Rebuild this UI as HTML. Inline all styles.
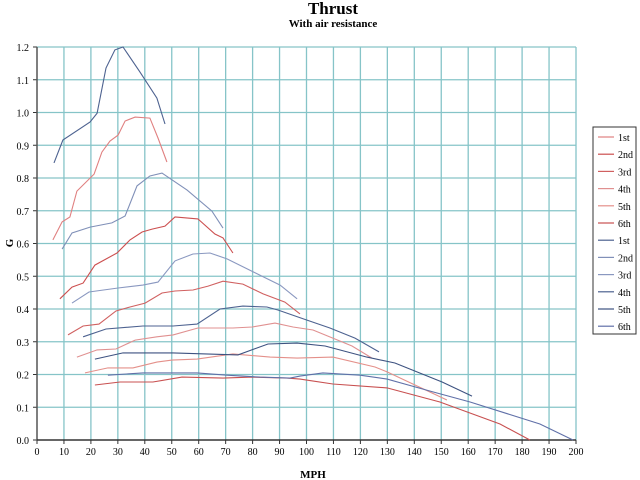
<!DOCTYPE html>
<html><head><meta charset="utf-8"><style>
body{margin:0;background:#fff;}
svg{display:block;font-family:"Liberation Serif",serif;}
</style></head><body>
<svg id="chart" width="640" height="480" viewBox="0 0 640 480" xmlns="http://www.w3.org/2000/svg">
<text x="333" y="14" text-anchor="middle" font-size="17" font-weight="bold">Thrust</text>
<text x="333" y="27" text-anchor="middle" font-size="11" font-weight="bold">With air resistance</text>
<text x="0" y="0" transform="translate(13,243) rotate(-90)" text-anchor="middle" font-size="11" font-weight="bold">G</text>
<text x="313" y="478" text-anchor="middle" font-size="11" font-weight="bold">MPH</text>
<g id="grid"></g>
<g id="axes"></g>
<g id="series"></g>
<g id="legend"></g>
</svg>
<script>
const xTicks=[0,10,20,30,40,50,60,70,80,90,100,110,120,130,140,150,160,170,180,190,200];
const yTicks=[0,0.1,0.2,0.3,0.4,0.5,0.6,0.7,0.8,0.9,1.0,1.1,1.2];
const seriesNames=["1st","2nd","3rd","4th","5th","6th","1st","2nd","3rd","4th","5th","6th"];
const red1X=[5.9,9.3,12.2,14.8,21.2,24.1,27.1,30.1,32.7,36.4,41.9,44.9,48.2];
const red1Y=[0.611,0.666,0.681,0.76,0.812,0.879,0.913,0.931,0.974,0.986,0.983,0.922,0.849];
const red2X=[8.5,13.0,17.1,21.5,29.7,34.5,39.0,42.7,47.5,51.2,59.7,66.0,69.0,72.7];
const red2Y=[0.431,0.467,0.479,0.534,0.571,0.611,0.635,0.644,0.653,0.681,0.675,0.629,0.617,0.571];
const red3X=[11.5,17.1,23.0,29.3,34.5,40.1,46.4,51.2,57.9,63.5,69.0,76.4,83.9,92.0,97.6];
const red3Y=[0.321,0.348,0.354,0.394,0.406,0.418,0.449,0.455,0.458,0.47,0.485,0.476,0.446,0.421,0.385];
const red4X=[14.8,22.3,29.3,36.4,44.5,50.5,59.7,72.7,79.8,88.3,95.0,102.4,116.9,124.3];
const red4Y=[0.253,0.275,0.278,0.305,0.315,0.321,0.342,0.342,0.345,0.357,0.345,0.336,0.287,0.25];
const red5X=[17.8,26.3,35.6,44.5,50.1,59.4,72.7,86.5,96.5,109.8,125.4,129.9,152.1];
const red5Y=[0.205,0.22,0.22,0.238,0.244,0.247,0.263,0.253,0.25,0.253,0.223,0.208,0.122];
const red6X=[21.5,30.8,43.0,53.8,69.0,79.8,92.8,97.6,109.8,129.9,149.5,171.8,182.9];
const red6Y=[0.168,0.177,0.177,0.192,0.189,0.192,0.189,0.186,0.171,0.159,0.116,0.049,0];
const blue1X=[6.3,9.6,19.7,22.3,25.6,28.9,31.9,38.2,44.5,47.5];
const blue1Y=[0.846,0.916,0.971,0.998,1.136,1.191,1.2,1.124,1.044,0.965];
const blue2X=[9.3,13.0,19.7,27.8,32.7,37.1,41.9,46.4,55.7,64.9,69.0];
const blue2Y=[0.583,0.632,0.65,0.663,0.684,0.776,0.806,0.815,0.763,0.699,0.647];
const blue3X=[13.0,19.3,30.1,39.3,44.9,51.2,57.9,64.2,70.5,90.2,96.5];
const blue3Y=[0.418,0.452,0.464,0.473,0.482,0.547,0.568,0.571,0.553,0.473,0.431];
const blue4X=[17.1,25.6,39.3,50.5,59.4,67.9,76.4,85.3,89.4,100.2,108.7,118.0,126.9];
const blue4Y=[0.315,0.339,0.348,0.348,0.354,0.4,0.409,0.406,0.397,0.366,0.342,0.311,0.269];
const blue5X=[21.5,31.9,50.5,74.6,85.7,96.5,106.9,122.4,132.8,150.3,161.4];
const blue5Y=[0.247,0.266,0.266,0.26,0.293,0.296,0.287,0.253,0.235,0.177,0.134];
const blue6X=[26.3,39.3,59.4,70.5,82.7,93.9,97.6,106.1,119.9,129.9,146.9,160.7,186.6,198.9];
const blue6Y=[0.198,0.205,0.205,0.198,0.192,0.189,0.195,0.205,0.198,0.186,0.147,0.116,0.049,0];
const allX=[red1X,red2X,red3X,red4X,red5X,red6X,blue1X,blue2X,blue3X,blue4X,blue5X,blue6X];
const allY=[red1Y,red2Y,red3Y,red4Y,red5Y,red6Y,blue1Y,blue2Y,blue3Y,blue4Y,blue5Y,blue6Y];
const colors=["#e08080","#cc4f4f","#d06060","#e09090","#e4908a","#c85050","#4d6290","#8090b8","#8a98c0","#4d6290","#3d5280","#6070a8"];
const X0=37,X1=576,Y0=440,Y1=47;
const sx=v=>X0+(v/200)*(X1-X0);
const sy=v=>Y0-(v/1.2)*(Y0-Y1);
const NS="http://www.w3.org/2000/svg";
function mk(tag,attrs,parent){const e=document.createElementNS(NS,tag);for(const k in attrs)e.setAttribute(k,attrs[k]);parent.appendChild(e);return e;}
const grid=document.getElementById('grid'),axes=document.getElementById('axes'),ser=document.getElementById('series'),leg=document.getElementById('legend');
xTicks.forEach(t=>{
  if(t>0){const l=mk('line',{x1:sx(t),x2:sx(t),y1:Y1,y2:Y0,stroke:'#86c4c8','stroke-width':1.3},grid);
  
  }
  const tk=mk('line',{x1:sx(t),x2:sx(t),y1:Y0,y2:Y0+4,stroke:'#333'},axes);
  
  
  const tx=mk('text',{x:sx(t),y:Y0+15,'text-anchor':'middle','font-size':10},axes);
  
  
  tx.textContent=t;
});
yTicks.forEach(t=>{
  if(t>0){const l=mk('line',{x1:X0,x2:X1,y1:sy(t),y2:sy(t),stroke:'#86c4c8','stroke-width':1.3},grid);
  
  }
  const tk=mk('line',{x1:X0-4,x2:X0,y1:sy(t),y2:sy(t),stroke:'#333'},axes);
  
  
  const tx=mk('text',{x:X0-8,y:sy(t)+4,'text-anchor':'end','font-size':10},axes);
  
  
  tx.textContent=t.toFixed(1);
});
const ya=mk('line',{x1:X0,x2:X0,y1:Y1,y2:Y0,stroke:'#555','stroke-width':1.5},axes);


const xa=mk('line',{x1:X0,x2:X1,y1:Y0,y2:Y0,stroke:'#333','stroke-width':1.5},axes);


allX.forEach((xs,i)=>{
  const pts=xs.map((x,j)=>sx(x).toFixed(1)+','+sy(allY[i][j]).toFixed(1)).join(' ');
  const p=mk('polyline',{points:pts,fill:'none',stroke:colors[i],'stroke-width':1.1},ser);
  
  
});
const box=mk('rect',{x:593,y:127,width:43,height:207,fill:'#fff',stroke:'#333'},leg);


seriesNames.forEach((n,i)=>{
  const y=137+i*17.2;
  const g=mk('g',{},leg);
  
  
  mk('line',{x1:598,x2:614,y1:y,y2:y,stroke:colors[i],'stroke-width':1.2},g);
  const t=mk('text',{x:618,y:y+4,'font-size':10},g);
  t.textContent=n;
});
</script>
</body></html>
